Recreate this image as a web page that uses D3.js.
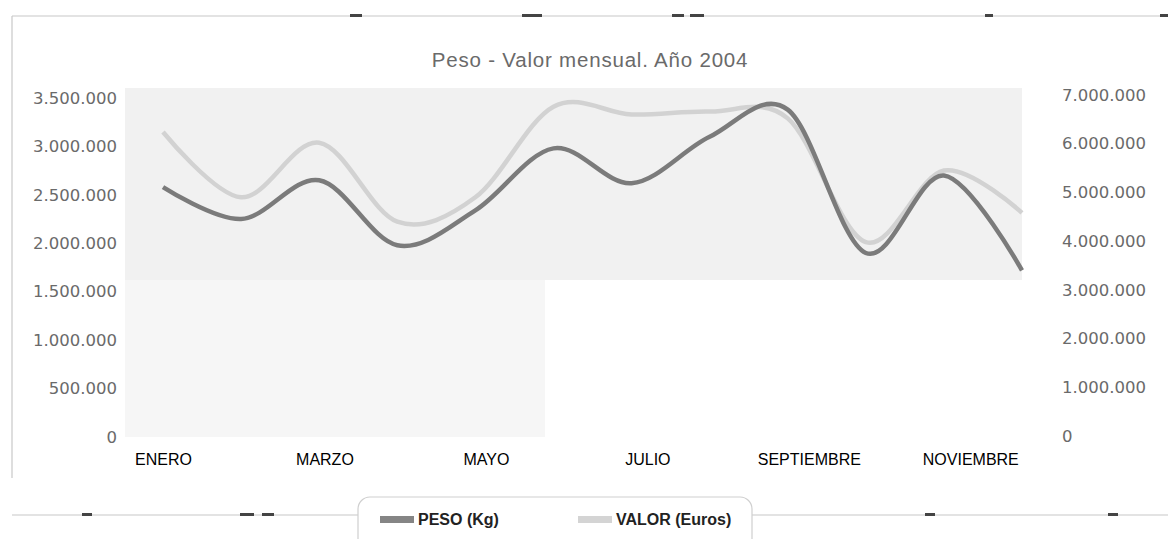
<!DOCTYPE html>
<html>
<head>
<meta charset="utf-8">
<script src="https://cdn.jsdelivr.net/npm/d3@7"></script>
<style>
  body { margin: 0; background: #fff; }
  svg { display: block; }
</style>
</head>
<body>
<svg width="1168" height="539"></svg>
<script>
var meses = ["ENERO","FEBRERO","MARZO","ABRIL","MAYO","JUNIO","JULIO","AGOSTO","SEPTIEMBRE","OCTUBRE","NOVIEMBRE","DICIEMBRE"];
var mesesEtiqueta = ["ENERO","MARZO","MAYO","JULIO","SEPTIEMBRE","NOVIEMBRE"];
var peso  = [2580000, 2250000, 2650000, 1980000, 2340000, 2980000, 2620000, 3100000, 3380000, 1900000, 2700000, 1720000];
var valor = [6240000, 4900000, 6020000, 4400000, 4900000, 6760000, 6600000, 6660000, 6520000, 3980000, 5450000, 4580000];
var ticksPeso  = [0, 500000, 1000000, 1500000, 2000000, 2500000, 3000000, 3500000];
var ticksValor = [0, 1000000, 2000000, 3000000, 4000000, 5000000, 6000000, 7000000];

var svg = d3.select("svg");
var locale = d3.formatLocale({decimal: ",", thousands: ".", grouping: [3], currency: ["", "€"]});
var fmt = locale.format(",d");

var x = d3.scalePoint().domain(meses).range([163, 1022]),
    xLab = d3.scalePoint().domain(meses).range([163, 1051]),
    yL = d3.scaleLinear().domain([0, 3500000]).range([437, 98]),
    yR = d3.scaleLinear().domain([0, 7000000]).range([436, 95]);

// marco escaneado
var frame = svg.append("g").attr("stroke", "#c8c8c8").attr("stroke-width", 1.2).attr("fill", "none");
frame.append("path").attr("d", "M12,16H1168");
frame.append("path").attr("d", "M12,16V478");
frame.append("path").attr("d", "M12,515H358");
frame.append("path").attr("d", "M752,515H1168");
var marcas = [[350,12,3],[522,20,3],[672,12,3],[690,14,3],[985,8,3],[1160,8,3],[82,10,3],[240,14,3],[262,12,3],[540,12,3],[640,10,3],[925,10,3],[1108,10,3]];
svg.append("g").selectAll("rect").data(marcas).enter().append("rect")
    .attr("x", function(d) { return d[0]; })
    .attr("y", function(d, i) { return i < 6 ? 14 : 513; })
    .attr("width", function(d) { return d[1]; })
    .attr("height", function(d) { return d[2]; })
    .attr("fill", "#444");

// fondo gris del área de trazado
svg.append("rect").attr("x", 125).attr("y", 88).attr("width", 897).attr("height", 192).attr("fill", "#f1f1f1");
svg.append("rect").attr("x", 125).attr("y", 280).attr("width", 420).attr("height", 157).attr("fill", "#f6f6f6");

svg.append("text")
    .attr("x", 590).attr("y", 67)
    .attr("text-anchor", "middle")
    .style("font-family", "Liberation Sans, Arial, sans-serif")
    .style("font-size", "20.5px")
    .style("letter-spacing", "0.8px")
    .attr("fill", "#6a6a6a")
    .text("Peso - Valor mensual. Año 2004");

var gL = svg.append("g").attr("transform", "translate(125,0)")
    .call(d3.axisLeft(yL).tickValues(ticksPeso).tickFormat(fmt).tickSize(0).tickPadding(8));
var gR = svg.append("g").attr("transform", "translate(1054,0)")
    .call(d3.axisRight(yR).tickValues(ticksValor).tickFormat(fmt).tickSize(0).tickPadding(8));
[gL, gR].forEach(function(g) {
  g.select(".domain").remove();
  g.selectAll("text")
    .style("font-family", "DejaVu Sans, sans-serif")
    .style("font-size", "16.5px")
    .attr("fill", "#6a6a6a");
});

var gX = svg.append("g").attr("transform", "translate(0,437)")
    .call(d3.axisBottom(xLab).tickValues(mesesEtiqueta).tickSize(0).tickPadding(17));
gX.select(".domain").remove();
gX.selectAll("text")
    .style("font-family", "Liberation Sans, Arial, sans-serif")
    .style("font-size", "16px")
    .attr("fill", "#000");

var line = function(scale) {
  return d3.line()
    .x(function(d, i) { return x(meses[i]); })
    .y(function(d) { return scale(d); })
    .curve(d3.curveCardinal.tension(0));
};

svg.append("path").datum(valor)
    .attr("fill", "none").attr("stroke", "#d2d2d2").attr("stroke-width", 4.5)
    .attr("d", line(yR));
svg.append("path").datum(peso)
    .attr("fill", "none").attr("stroke", "#7b7b7b").attr("stroke-width", 4.5)
    .attr("d", line(yL));

// leyenda
var series = [{name: "PESO (Kg)", color: "#858585"}, {name: "VALOR (Euros)", color: "#d4d4d4"}];
var leg = svg.append("g");
leg.append("rect").attr("x", 358).attr("y", 497).attr("width", 394).attr("height", 60).attr("rx", 12)
    .attr("fill", "#fff").attr("stroke", "#cfcfcf").attr("stroke-width", 1.2);
var item = leg.selectAll(".item").data(series).enter().append("g")
    .attr("class", "item")
    .attr("transform", function(d, i) { return "translate(" + (380 + i * 198) + ",519)"; });
item.append("rect").attr("x", 0).attr("y", -3).attr("width", 34).attr("height", 7).attr("fill", function(d) { return d.color; });
item.append("text").attr("x", 38).attr("y", 6)
    .style("font-family", "Liberation Sans, Arial, sans-serif")
    .style("font-size", "16px")
    .style("font-weight", "bold")
    .attr("fill", "#222")
    .text(function(d) { return d.name; });
</script>
</body>
</html>
